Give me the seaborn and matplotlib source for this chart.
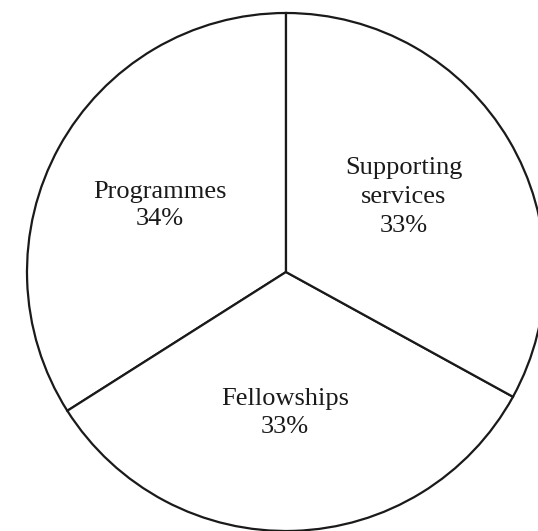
import matplotlib
matplotlib.use("Agg")
import matplotlib.pyplot as plt
import seaborn as sns

categories = ["Programmes", "Fellowships", "Supporting services"]
shares = [34, 33, 33]
label_lines = [["Programmes", "34%"], ["Fellowships", "33%"], ["Supporting", "services", "33%"]]

sns.set_theme(style="white")
plt.rcParams["font.family"] = ["Liberation Serif", "DejaVu Serif"]

W, H = 538, 531
fig = plt.figure(figsize=(W / 100, H / 100), dpi=100)
ax = fig.add_axes([0, 0, 1, 1])

cx, cy, r = 286, H - 272, 259
ax.pie(shares, center=(cx, cy), radius=r, startangle=90, counterclock=True,
       colors=["white"] * len(shares),
       wedgeprops=dict(edgecolor="#1a1a1a", linewidth=1.6))

# label positions (x centre, baselines in image pixels)
label_pos = [(160, [198, 225]), (285, [405, 433]), (404, [174, 203, 232])]
for lines, (x, ys) in zip(label_lines, label_pos):
    for txt, y in zip(lines, ys):
        ax.text(x, H - y, txt, ha="center", va="baseline", fontsize=19, color="#1a1a1a")

ax.set_xlim(0, W)
ax.set_ylim(0, H)
ax.set_aspect("equal")
ax.axis("off")
fig.savefig("out.png", dpi=100, facecolor="white")
